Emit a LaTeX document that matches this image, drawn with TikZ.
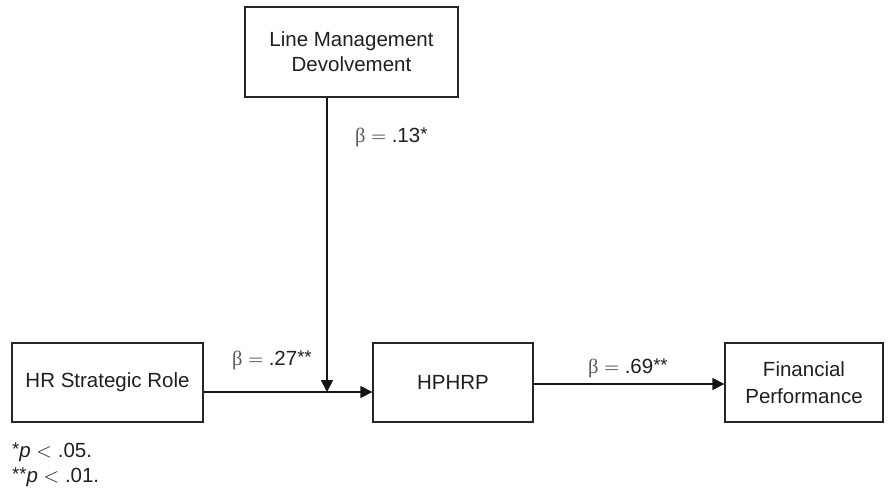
\documentclass[tikz,border=0pt]{standalone}
\usepackage{fix-cm}
\usepackage{fontspec}
\setmainfont{Liberation Sans}
\newfontfamily\grkfont{Liberation Serif}
\newcommand{\bcoef}{{\grkfont\color{black!65}β}}
\newcommand{\sig}[1]{\raisebox{1.5pt}{\fontsize{18.5}{18.5}\selectfont #1}}
\usetikzlibrary{arrows.meta}
\begin{document}
\begin{tikzpicture}[x=1pt,y=-1pt,
  every node/.style={text=black!88, font=\fontsize{20.5}{25}\selectfont},
  box/.style={draw=black!85, line width=1.4pt, align=center, inner sep=0pt, minimum height=79pt},
  link/.style={draw=black!92, line width=1.7pt},
  arr/.style={link, -{Triangle[length=12pt,width=12pt]}},
  lbl/.style={anchor=west, inner sep=0pt}]
  \useasboundingbox (0,0) rectangle (896,491);

  % variables
  \node[box, minimum width=213pt, minimum height=90pt] (lm) at (351.5,52) {Line Management\\Devolvement};
  \node[box, minimum width=191pt] (hr) at (107.5,382.5) {HR Strategic Role};
  \node[box, minimum width=160pt] (hp) at (453,382.5) {HPHRP};
  \node[box, minimum width=158pt, font=\fontsize{20.5}{26.5}\selectfont] (fp) at (804,382.5) {Financial\\Performance};

  % moderation point on the main path
  \coordinate (join) at (327,392);

  % paths
  \draw[arr] ([yshift=-9.5pt]hr.east) -- ([yshift=-9.5pt]hp.west);
  \draw[arr] (lm.south -| join) -- (join);
  \draw[arr] ([yshift=-1.5pt]hp.east) -- ([yshift=-1.5pt]fp.west);

  % coefficients
  \node[lbl] (b1) at (355,137) {\bcoef\ $=$ .13\sig{*}};
  \node[lbl] (b2) at (232,360) {\bcoef\ $=$ .27\sig{**}};
  \node[lbl] (b3) at (588,368) {\bcoef\ $=$ .69\sig{**}};

  % significance notes
  \node[lbl] (n1) at (12,452) {$\hbox{\sig{*}\itshape p} < \hbox{.05.}$};
  \node[lbl] (n2) at (12,477) {$\hbox{\sig{**}\itshape p} < \hbox{.01.}$};
\end{tikzpicture}
\end{document}
